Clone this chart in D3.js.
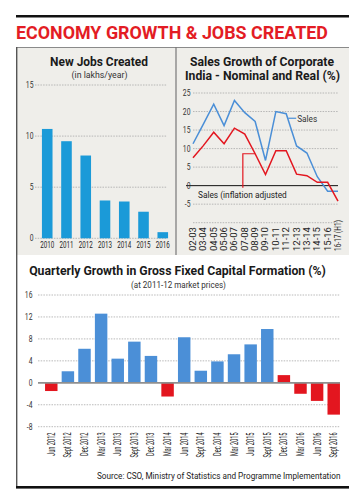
<!DOCTYPE html>
<html><head><meta charset="utf-8">
<script src="https://cdn.jsdelivr.net/npm/d3@7"></script>
<style>body{margin:0;background:#fff}svg{display:block}text{font-family:Roboto,"Liberation Sans",sans-serif}</style>
</head><body><svg id="c" width="359" height="500"></svg>
<script>
// ---------- data ----------
const jobYears = ["2010","2011","2012","2013","2014","2015","2016"];
const jobsCreated = [10.7, 9.5, 8.1, 3.7, 3.6, 2.6, 0.6];
const jobTicks = [0, 5, 10, 15];

const salesYears = ["02-03","03-04","04-05","05-06","06-07","07-08","08-09","09-10","10-11","11-12","12-13","13-14","14-15","15-16","16-17 (H1)"];
const salesNominal = [11.3, 16.6, 22.0, 16.2, 23.0, 19.7, 17.3, 6.8, 20.0, 19.4, 10.7, 8.8, 2.4, -1.5, -1.5];
const salesReal = [7.5, 10.8, 14.4, 11.3, 15.5, 13.9, 8.6, 3.0, 9.4, 9.4, 3.1, 2.7, 0.9, 0.9, -4.2];
const salesTicks = [-10, -5, 0, 5, 10, 15, 20, 25];

const quarters = ["Jun 2012","Sept 2012","Dec 2012","Mar 2013","Jun 2013","Sept 2013","Dec 2013","Mar 2014","Jun 2014","Sept 2014","Dec 2014","Mar 2015","Jun 2015","Sept 2015","Dec 2015","Mar 2016","Jun 2016","Sept 2016"];
const gfcfGrowth = [-1.5, 2.1, 6.2, 12.6, 4.4, 7.5, 4.9, -2.5, 8.3, 2.2, 3.9, 5.2, 7.0, 9.8, 1.4, -2.0, -3.3, -5.8];
const gfcfTicks = [-8, -4, 0, 4, 8, 12, 16];
const highlightFrom = "Dec 2015";

// ---------- helpers ----------
const svg = d3.select("#c");
const RED = "#e3161f", BLUE_BAR = "#1b9ad8", BLUE = "#4b8fd7", GRID = "#a8a8a8";
function ctext(g, x, y, s, o = {}) {
  const t = g.append("text")
    .attr("font-size", o.size || 9).attr("font-weight", o.weight || "normal")
    .attr("fill", o.fill || "#222").attr("text-anchor", o.anchor || "start").text(s);
  if (o.dy) t.attr("dy", o.dy);
  let sx = o.sx || 1;
  if (o.len) { const w = t.node().getComputedTextLength(); if (w > 0) sx = o.len / w; }
  let tr = `translate(${x},${y})`;
  if (o.rot) tr += ` rotate(${o.rot})`;
  if (sx !== 1) tr += ` scale(${sx},1)`;
  t.attr("transform", tr);
  return t;
}

// ---------- frame ----------
svg.append("rect").attr("x", 16).attr("y", 15).attr("width", 333).attr("height", 2.5).attr("fill", "#111");
ctext(svg, 16, 39, "ECONOMY GROWTH & JOBS CREATED", {size: 19, weight: 700, fill: "#e31c24", len: 312});
svg.append("rect").attr("x", 16).attr("y", 47).attr("width", 333).attr("height", 208).attr("fill", "#efeeea");
svg.append("line").attr("x1", 16).attr("x2", 349).attr("y1", 47.5).attr("y2", 47.5).attr("stroke", "#8a8a8a").attr("stroke-width", 1);
svg.append("line").attr("x1", 176).attr("x2", 176).attr("y1", 47).attr("y2", 255).attr("stroke", "#777").attr("stroke-width", 1.2);
svg.append("line").attr("x1", 16.7).attr("x2", 16.7).attr("y1", 47).attr("y2", 487).attr("stroke", "#555").attr("stroke-width", 1.4);
svg.append("rect").attr("x", 16).attr("y", 486).attr("width", 333).attr("height", 2.6).attr("fill", "#111");

// ---------- New Jobs Created ----------
{
  const g = svg.append("g");
  ctext(g, 99, 66, "New Jobs Created", {size: 13, weight: 700, fill: "#1a1a1a", anchor: "middle", len: 98});
  ctext(g, 99.5, 77.5, "(in lakhs/year)", {size: 9.5, fill: "#333", anchor: "middle", len: 56});
  const y = d3.scaleLinear().domain([0, 15]).range([238.3, 85]);
  const x = d3.scaleBand().domain(jobYears).range([35, 175]).paddingInner(0.45).paddingOuter(0.36);
  g.selectAll(".gl").data(jobTicks).join("line")
    .attr("x1", 35).attr("x2", 167).attr("y1", d => y(d)).attr("y2", d => y(d))
    .attr("stroke", GRID).attr("stroke-width", 0.8).attr("stroke-dasharray", "1.5,1.2");
  jobTicks.forEach(t => ctext(g, 33.5, y(t), String(t), {size: 8.5, fill: "#333", anchor: "end", dy: "0.35em", sx: 0.8}));
  g.selectAll(".b").data(jobsCreated).join("rect")
    .attr("x", (d, i) => x(jobYears[i])).attr("width", x.bandwidth())
    .attr("y", d => y(d)).attr("height", d => y(0) - y(d)).attr("fill", BLUE_BAR);
  jobYears.forEach(c => ctext(g, x(c) + x.bandwidth() / 2, 247.5, c, {size: 9.5, fill: "#222", anchor: "middle", len: 14}));
}

// ---------- Sales Growth ----------
{
  const g = svg.append("g");
  ctext(g, 262, 65.5, "Sales Growth of Corporate", {size: 12.2, weight: 700, fill: "#1a1a1a", anchor: "middle", len: 144});
  ctext(g, 262.5, 80, "India - Nominal and Real (%)", {size: 12.2, weight: 700, fill: "#1a1a1a", anchor: "middle", len: 155});
  const y = d3.scaleLinear().domain([-10, 25]).range([222.7, 93]);
  const x = d3.scalePoint().domain(salesYears).range([193, 338]);
  g.selectAll(".gl").data(salesTicks.filter(t => t !== 0)).join("line")
    .attr("x1", 193).attr("x2", 338).attr("y1", d => y(d)).attr("y2", d => y(d))
    .attr("stroke", GRID).attr("stroke-width", 0.8).attr("stroke-dasharray", "1.5,1.2");
  g.append("line").attr("x1", 186).attr("x2", 338).attr("y1", y(0)).attr("y2", y(0)).attr("stroke", "#111").attr("stroke-width", 1);
  salesTicks.filter(t => t > -10).forEach(t => ctext(g, 190.5, y(t), String(t), {size: 8.5, fill: "#333", anchor: "end", dy: "0.35em", sx: 0.8}));
  const line = d3.line().x((d, i) => x(salesYears[i])).y(d => y(d));
  g.append("path").datum(salesNominal).attr("d", line).attr("fill", "none").attr("stroke", BLUE).attr("stroke-width", 1.5);
  g.append("path").datum(salesReal).attr("d", line).attr("fill", "none").attr("stroke", RED).attr("stroke-width", 1.5);
  salesYears.forEach(c => ctext(g, x(c), 251, c, {size: 8.5, fill: "#222", rot: -90, dy: "0.35em", len: c.length > 6 ? 31 : 24}));
  // annotations
  const sx = x(salesYears[9]), sy = y(salesNominal[9]) + 4.5;
  g.append("line").attr("x1", sx + 2).attr("x2", sx + 10).attr("y1", sy).attr("y2", sy).attr("stroke", BLUE).attr("stroke-width", 1.2);
  ctext(g, sx + 11, sy + 3.5, "Sales", {size: 9.5, fill: "#333", len: 20});
  const rx = x(salesYears[6]), ry = y(salesReal[6]);
  g.append("polyline").attr("points", `${rx},${ry} ${rx - 12.3},${ry} ${rx - 12.3},${y(0) + 2}`)
    .attr("fill", "none").attr("stroke", RED).attr("stroke-width", 1.2);
  ctext(g, 198, 197.5, "Sales (inflation adjusted", {size: 9.5, fill: "#222", len: 89});
}

// ---------- Quarterly GFCF ----------
{
  const g = svg.append("g");
  ctext(g, 177.5, 274.5, "Quarterly Growth in Gross Fixed Capital Formation (%)", {size: 13, weight: 700, fill: "#1a1a1a", anchor: "middle", len: 297});
  ctext(g, 178.5, 287.5, "(at 2011-12 market prices)", {size: 9.5, fill: "#333", anchor: "middle", len: 95});
  const y = d3.scaleLinear().domain([-8, 16]).range([426.7, 295]);
  const x = d3.scaleBand().domain(quarters).range([38.4, 346.6]).paddingInner(0.25).paddingOuter(0.4);
  g.selectAll(".gl").data(gfcfTicks.filter(t => t !== 0)).join("line")
    .attr("x1", 38).attr("x2", 340).attr("y1", d => y(d)).attr("y2", d => y(d))
    .attr("stroke", GRID).attr("stroke-width", 0.8).attr("stroke-dasharray", "1.5,1.2");
  gfcfTicks.forEach(t => ctext(g, 32.5, y(t), String(t), {size: 8.5, fill: "#333", anchor: "end", dy: "0.35em", sx: 0.8}));
  const hi = quarters.indexOf(highlightFrom);
  g.selectAll(".b").data(gfcfGrowth).join("rect")
    .attr("x", (d, i) => x(quarters[i])).attr("width", x.bandwidth())
    .attr("y", d => y(Math.max(0, d))).attr("height", d => Math.abs(y(d) - y(0)))
    .attr("fill", (d, i) => (d < 0 || i >= hi) ? RED : BLUE);
  g.append("line").attr("x1", 38).attr("x2", 340).attr("y1", y(0)).attr("y2", y(0)).attr("stroke", "#8f8f8f").attr("stroke-width", 1.8);
  quarters.forEach(c => ctext(g, x(c) + x.bandwidth() / 2, 432.5, c, {size: 10, fill: "#222", anchor: "end", rot: -90, dy: "0.35em", len: c.startsWith("Sept") ? 25 : 23.5}));
  ctext(g, 97, 479, "Source: CSO, Ministry of Statistics and Programme Implementation", {size: 9.5, fill: "#222", len: 244});
}
</script></body></html>
